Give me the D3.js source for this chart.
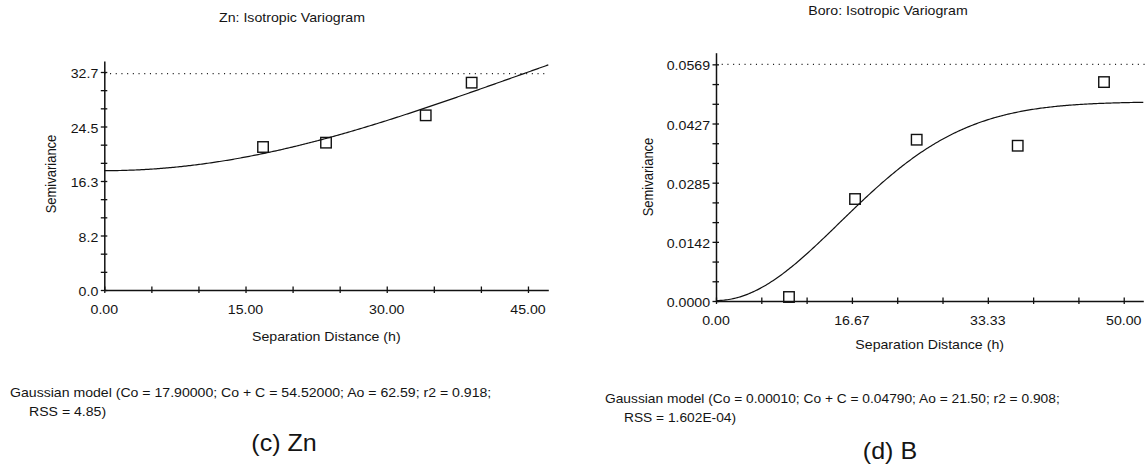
<!DOCTYPE html>
<html>
<head>
<meta charset="utf-8">
<script src="https://cdn.jsdelivr.net/npm/d3@7"></script>
<style>
  html, body { margin: 0; padding: 0; background: #fff; }
  svg { display: block; }
  text { font-family: "Liberation Sans", Arial, sans-serif; fill: #141414; }
</style>
</head>
<body>
<svg id="chart" width="1148" height="468"></svg>
<script>
// ---- Zn experimental variogram (lag distance, semivariance)
const znLag   = [16.86, 23.55, 34.14, 39.02];
const znGamma = [21.45, 22.10, 26.20, 31.10];
// Zn Gaussian model: nugget Co, sill Co + C, range parameter Ao
const znNugget = 17.9, znSill = 54.52, znRange = 62.59, znR2 = 0.918, znRSS = "4.85";
const znSampleVar = 32.45;
const znYTicks = [0, 8.175, 16.35, 24.525, 32.7];
const znYLabels = ["0.0", "8.2", "16.3", "24.5", "32.7"];
const znXTicks = [0, 15, 30, 45];
const znXLabels = ["0.00", "15.00", "30.00", "45.00"];

// ---- Boro experimental variogram
const boroLag   = [8.95, 17.05, 24.61, 37.00, 47.58];
const boroGamma = [0.00096, 0.02452, 0.03878, 0.03733, 0.05264];
const boroNugget = 0.0001, boroSill = 0.0479, boroRange = 21.5, boroR2 = 0.908, boroRSS = "1.602E-04";
const boroSampleVar = 0.0569;
const boroYTicks = [0, 0.014225, 0.02845, 0.042675, 0.0569];
const boroYLabels = ["0.0000", "0.0142", "0.0285", "0.0427", "0.0569"];
const boroXTicks = [0, 50 / 3, 100 / 3, 50];
const boroXLabels = ["0.00", "16.67", "33.33", "50.00"];

const SX = 1.09;          // horizontal text stretch
const svg = d3.select("#chart");

function label(g, x, y, s, size, anchor, rotate, sx) {
  g.append("text")
    .attr("transform", `translate(${x},${y}) scale(${sx || SX},1)` + (rotate ? " rotate(-90)" : ""))
    .attr("text-anchor", anchor || "start")
    .style("font-size", size + "px")
    .text(s);
}

function gaussian(h, c0, sill, a0) {
  return c0 + (sill - c0) * (1 - Math.exp(-(h * h) / (a0 * a0)));
}

function panel(cfg) {
  const g = svg.append("g");
  const x = d3.scaleLinear().domain([0, cfg.xMax]).range(cfg.xRange);
  const y = d3.scaleLinear().domain([0, cfg.yMax]).range(cfg.yRange);
  const y0 = cfg.yRange[0], x0 = cfg.xRange[0];

  // sample variance reference line
  g.append("line")
    .attr("x1", x0).attr("x2", cfg.dotEnd)
    .attr("y1", y(cfg.sampleVar)).attr("y2", y(cfg.sampleVar))
    .attr("stroke", "#222").attr("stroke-width", 1.1)
    .attr("stroke-dasharray", "1.1,4.6");

  // minor + major tick marks crossing each axis
  const xMinor = d3.range(0, cfg.xMax + 1e-9, cfg.xMinorStep);
  const yMinor = d3.range(0, 12).map(i => (i + 1) * cfg.yTicks[4] / 12);

  const xAxis = d3.axisBottom(x).tickValues(xMinor).tickSizeInner(3).tickSizeOuter(0).tickFormat("");
  const gx = g.append("g").attr("transform", `translate(0,${y0})`).call(xAxis);
  gx.selectAll(".tick line").attr("y1", -3.5).attr("y2", 3).attr("stroke", "#111").attr("stroke-width", 1.3);
  gx.select(".domain").attr("stroke", "#111").attr("stroke-width", 1.5);

  const yAxis = d3.axisLeft(y).tickValues([0].concat(yMinor)).tickSizeInner(3).tickSizeOuter(0).tickFormat("");
  const gy = g.append("g").attr("transform", `translate(${x0},0)`).call(yAxis);
  gy.selectAll(".tick line").attr("x1", -3.5).attr("x2", 3).attr("stroke", "#111").attr("stroke-width", 1.3);
  gy.select(".domain").attr("stroke", "#111").attr("stroke-width", 1.5);

  // tick labels
  cfg.xTicks.forEach((v, i) => label(g, x(v), y0 + 23.5, cfg.xLabels[i], 13, "middle"));
  cfg.yTicks.forEach((v, i) => label(g, x0 - 6, y(v) + 6, cfg.yLabels[i], 13, "end"));

  // fitted Gaussian model
  const hs = d3.range(0, cfg.xMax, cfg.xMax / 300).concat([cfg.xMax]);
  g.append("path")
    .datum(hs)
    .attr("fill", "none").attr("stroke", "#111").attr("stroke-width", 1.2)
    .attr("d", d3.line().x(h => x(h)).y(h => y(gaussian(h, cfg.c0, cfg.sill, cfg.a0))));

  // experimental semivariances
  const s = 10.5;
  g.selectAll("rect.pt")
    .data(cfg.lag.map((h, i) => [h, cfg.gamma[i]]))
    .join("rect")
    .attr("class", "pt")
    .attr("x", d => x(d[0]) - s / 2).attr("y", d => y(d[1]) - s / 2)
    .attr("width", s).attr("height", s)
    .attr("fill", "none").attr("stroke", "#111").attr("stroke-width", 1.4);

  // titles and notes
  label(g, cfg.titleX, cfg.titleY, cfg.title, 13, "middle");
  label(g, cfg.ylabX, cfg.ylabY, "Semivariance", 13, "middle", true);
  label(g, (cfg.xRange[0] + cfg.xRange[1]) / 2, cfg.xlabY, "Separation Distance (h)", 13, "middle");
  label(g, cfg.noteX, cfg.noteY, cfg.note1, 13, "start", false, cfg.noteSX);
  label(g, cfg.noteX + 19, cfg.noteY + 18.5, cfg.note2, 13, "start", false, cfg.noteSX);
  label(g, cfg.capX, cfg.capY, cfg.caption, 23, "middle");
}

panel({
  lag: znLag, gamma: znGamma,
  c0: znNugget, sill: znSill, a0: znRange, sampleVar: znSampleVar,
  xMax: 47.16, xRange: [104.3, 548.3], xMinorStep: 5, dotEnd: 548.3,
  yMax: 34.35, yRange: [290, 61],
  xTicks: znXTicks, xLabels: znXLabels, yTicks: znYTicks, yLabels: znYLabels,
  title: "Zn: Isotropic Variogram", titleX: 292, titleY: 22,
  ylabX: 56, ylabY: 174, xlabY: 341,
  note1: `Gaussian model (Co = ${znNugget.toFixed(5)}; Co + C = ${znSill.toFixed(5)}; Ao = ${znRange.toFixed(2)}; r2 = ${znR2.toFixed(3)};`,
  note2: `RSS = ${znRSS})`, noteX: 10, noteY: 397, noteSX: 1.085,
  caption: "(c) Zn", capX: 284, capY: 451
});

panel({
  lag: boroLag, gamma: boroGamma,
  c0: boroNugget, sill: boroSill, a0: boroRange, sampleVar: boroSampleVar,
  xMax: 52.4, xRange: [716, 1143.3], xMinorStep: 50 / 9, dotEnd: 1148,
  yMax: 0.0597, yRange: [301, 52.7],
  xTicks: boroXTicks, xLabels: boroXLabels, yTicks: boroYTicks, yLabels: boroYLabels,
  title: "Boro: Isotropic Variogram", titleX: 888, titleY: 15,
  ylabX: 653, ylabY: 177, xlabY: 348.5,
  note1: `Gaussian model (Co = ${boroNugget.toFixed(5)}; Co + C = ${boroSill.toFixed(5)}; Ao = ${boroRange.toFixed(2)}; r2 = ${boroR2.toFixed(3)};`,
  note2: `RSS = ${boroRSS})`, noteX: 605, noteY: 403, noteSX: 1.06,
  caption: "(d) B", capX: 890, capY: 459
});
</script>
</body>
</html>
